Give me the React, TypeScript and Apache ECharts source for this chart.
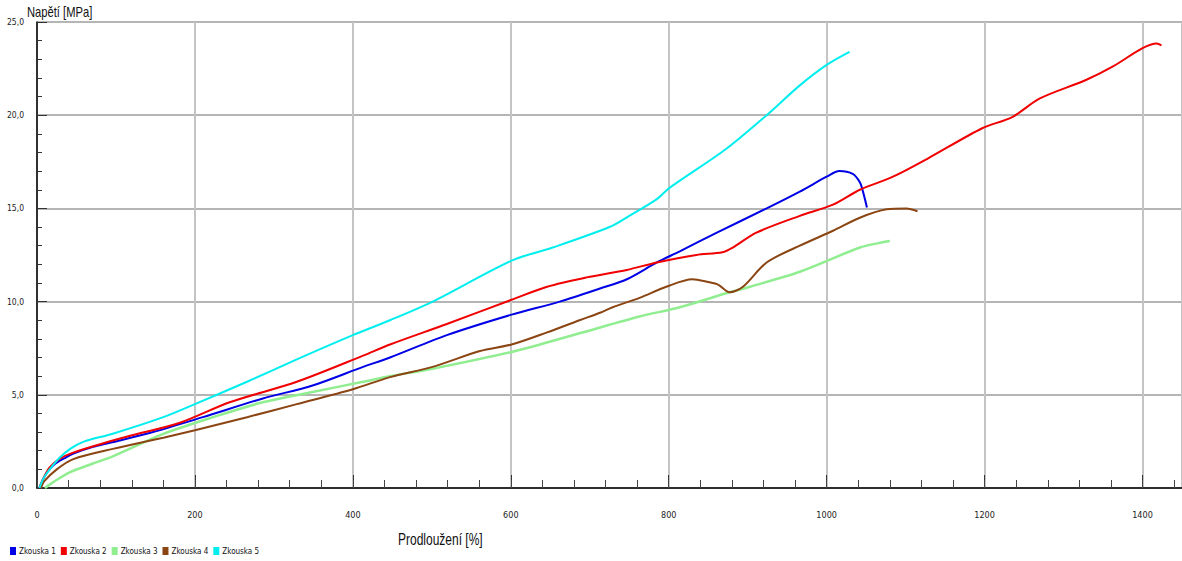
import React, { useEffect, useRef } from "react";
import * as echarts from "echarts";

const seriesNames = ["Zkouska 1", "Zkouska 2", "Zkouska 3", "Zkouska 4", "Zkouska 5"];
const seriesColors = ["#0000e6", "#f00000", "#90ee90", "#8b4513", "#00eeee"];

const zkouska1: [number, number][] = [
  [3, 0], [8, 0.5], [14, 0.9], [23, 1.3], [35, 1.6], [46, 1.85], [70, 2.2], [95, 2.45], [147, 3.0],
  [210, 3.8], [286, 4.8], [349, 5.5], [413, 6.5], [447, 7.0], [519, 8.2], [601, 9.3], [662, 10.0],
  [713, 10.7], [747, 11.2], [785, 12.1], [814, 12.7], [861, 13.7], [924, 15.0], [966, 15.9],
  [1000, 16.7], [1016, 17.0], [1033, 16.85], [1042, 16.4], [1046, 15.9], [1051, 15.05],
];
const zkouska2: [number, number][] = [
  [3, 0], [8, 0.5], [16, 1.1], [30, 1.6], [46, 1.9], [80, 2.35], [118, 2.8], [181, 3.5], [244, 4.6],
  [329, 5.7], [413, 7.1], [447, 7.7], [519, 8.8], [601, 10.1], [646, 10.8], [696, 11.3], [747, 11.7],
  [785, 12.1], [835, 12.5], [868, 12.65], [881, 12.9], [911, 13.7], [966, 14.6], [1008, 15.2],
  [1042, 16.0], [1084, 16.7], [1127, 17.65], [1197, 19.3], [1235, 19.9], [1270, 20.9], [1329, 21.9],
  [1362, 22.6], [1400, 23.6], [1418, 23.85], [1424, 23.75],
];
const zkouska3: [number, number][] = [
  [10, 0], [20, 0.3], [42, 0.85], [70, 1.3], [96, 1.7], [160, 2.9], [223, 3.8], [286, 4.6],
  [349, 5.15], [413, 5.7], [447, 6.0], [501, 6.4], [601, 7.3], [687, 8.3], [763, 9.2], [814, 9.7],
  [877, 10.5], [903, 10.8], [966, 11.6], [1042, 12.9], [1067, 13.15], [1080, 13.25],
];
const zkouska4: [number, number][] = [
  [5, 0], [9, 0.35], [25, 1.0], [46, 1.55], [96, 2.1], [160, 2.7], [200, 3.1], [266, 3.8],
  [329, 4.5], [400, 5.3], [447, 5.95], [501, 6.5], [561, 7.35], [601, 7.7], [646, 8.35], [687, 9.0],
  [713, 9.4], [729, 9.7], [763, 10.2], [797, 10.8], [830, 11.2], [850, 11.05], [863, 10.9],
  [877, 10.5], [894, 10.8], [924, 12.1], [966, 13.0], [1008, 13.8], [1042, 14.5], [1076, 14.95],
  [1101, 15.0], [1115, 14.85],
];
const zkouska5: [number, number][] = [
  [3, 0], [8, 0.5], [16, 1.0], [28, 1.6], [42, 2.1], [60, 2.5], [95, 2.9], [160, 3.8], [200, 4.5],
  [266, 5.7], [329, 6.9], [400, 8.2], [447, 9.0], [501, 10.0], [601, 12.2], [653, 12.9], [725, 14.0],
  [750, 14.6], [785, 15.5], [801, 16.1], [873, 18.2], [924, 20.0], [966, 21.6], [1000, 22.7],
  [1029, 23.4],
];
const seriesData = [zkouska1, zkouska2, zkouska3, zkouska4, zkouska5];

const yTitle = "Napětí [MPa]";
const xTitle = "Prodloužení [%]";

const FONT = "'DejaVu Sans Condensed', 'Liberation Sans', Arial, sans-serif";
const WIDE = "'Liberation Sans', Arial, sans-serif";

export default function App() {
  const ref = useRef<HTMLDivElement>(null);
  useEffect(() => {
    if (!ref.current) return;
    const chart = echarts.init(ref.current, undefined, { renderer: "svg" });
    chart.setOption({
      animation: false,
      backgroundColor: "#ffffff",
      textStyle: { fontFamily: FONT },
      graphic: [
        {
          type: "text",
          x: 27,
          y: 6,
          scaleX: 0.8,
          style: { text: yTitle, font: `14px ${WIDE}`, fill: "#111", textVerticalAlign: "top" },
        },
        {
          type: "text",
          x: 398,
          y: 531,
          scaleX: 0.75,
          style: { text: xTitle, font: `16px ${WIDE}`, fill: "#111", textVerticalAlign: "top" },
        },
      ],
      legend: {
        left: 10,
        top: 547,
        padding: 0,
        icon: "rect",
        itemWidth: 6,
        itemHeight: 8,
        itemGap: 5,
        textStyle: { fontFamily: FONT, fontSize: 8, color: "#111", padding: [0, 0, 0, -2] },
        data: seriesNames,
      },
      grid: { left: 37, top: 22, right: 0, bottom: 73 },
      xAxis: [
        {
          type: "value",
          min: 0,
          max: 1450,
          interval: 200,
          offset: 16,
          position: "bottom",
          axisLine: { show: true, lineStyle: { color: "#000", width: 1.5 } },
          axisTick: { show: true, inside: true, length: 13, lineStyle: { color: "#333" } },
          axisLabel: {
            margin: 6,
            fontSize: 9,
            color: "#222",
            fontFamily: FONT,
            showMaxLabel: false,
            formatter: (v: number) => (v % 200 === 0 ? String(v) : ""),
          },
          splitLine: { show: true, lineStyle: { color: "#c4c4c4", width: 2 } },
        },
        {
          type: "value",
          min: 0,
          max: 1450,
          interval: 40,
          offset: 16,
          position: "bottom",
          axisLine: { show: false },
          axisTick: { show: true, inside: true, length: 8, lineStyle: { color: "#444" } },
          axisLabel: { show: false },
          splitLine: { show: false },
        },
      ],
      yAxis: [
        {
          type: "value",
          min: 0,
          max: 25,
          interval: 5,
          offset: 10,
          position: "left",
          axisLine: { show: true, lineStyle: { color: "#000", width: 1.5 } },
          axisTick: { show: true, inside: true, length: 10, lineStyle: { color: "#333" } },
          axisLabel: {
            margin: 3,
            fontSize: 8.5,
            color: "#222",
            fontFamily: FONT,
            formatter: (v: number) => v.toFixed(1).replace(".", ","),
          },
          splitLine: { show: true, lineStyle: { color: "#9c9c9c", width: 1.5 } },
        },
        {
          type: "value",
          min: 0,
          max: 25,
          interval: 1,
          offset: 10,
          position: "left",
          axisLine: { show: false },
          axisTick: { show: true, inside: true, length: 5, lineStyle: { color: "#333" } },
          axisLabel: { show: false },
          splitLine: { show: false },
        },
      ],
      series: seriesNames.map((name, i) => ({
        name,
        type: "line",
        xAxisIndex: 0,
        yAxisIndex: 0,
        data: seriesData[i],
        showSymbol: false,
        smooth: 0.3,
        color: seriesColors[i],
        lineStyle: { color: seriesColors[i], width: i === 2 ? 2.5 : 2 },
      })),
    });
    return () => chart.dispose();
  }, []);
  return (
    <div
      ref={ref}
      style={{ position: "fixed", left: 0, top: 0, width: 1182, height: 561, background: "#fff" }}
    />
  );
}
